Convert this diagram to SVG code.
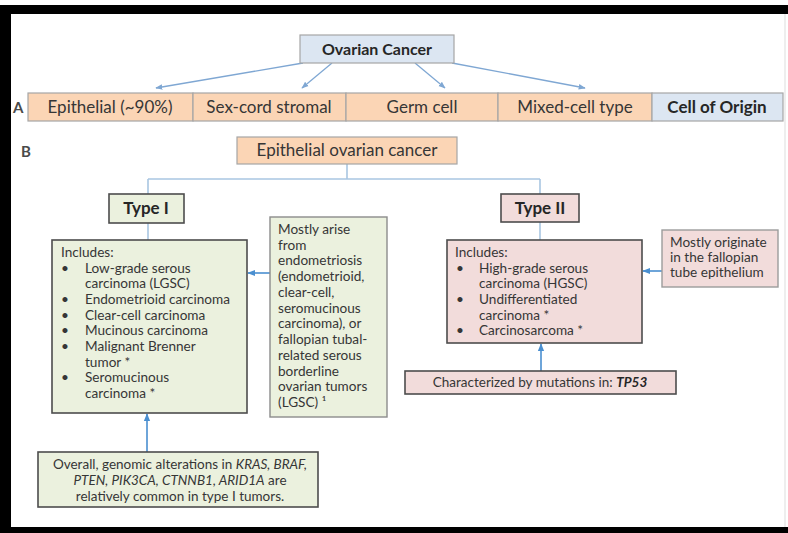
<svg xmlns="http://www.w3.org/2000/svg" width="788" height="533" viewBox="0 0 788 533">
  <defs>
    <marker id="ah" viewBox="0 0 10 10" refX="9" refY="5" markerWidth="8" markerHeight="8" markerUnits="userSpaceOnUse" orient="auto">
      <path d="M0,1 L10,5 L0,9 Z" fill="#4a8fd0"/>
    </marker>
    <marker id="ahs" viewBox="0 0 10 10" refX="9" refY="5" markerWidth="7" markerHeight="7" markerUnits="userSpaceOnUse" orient="auto">
      <path d="M0,1 L10,5 L0,9 Z" fill="#7fa7d3"/>
    </marker>
  </defs>
  <style>
    text { font-family: Lato, "Open Sans", "Liberation Sans", sans-serif; fill: #363636; }
    .head { font-weight: bold; fill: #262626; }
    .lbl { font-size: 15px; font-weight: bold; fill: #4a4a4a; }
    .row { font-size: 17px; }
    .body { font-size: 13.6px; }
    .small { font-size: 13.5px; }
    .mid { text-anchor: middle; }
    .it { font-style: italic; }
    .peach { fill: #fbd5b5; stroke: #a6a6a6; stroke-width: 1.2; }
    .blue { fill: #dce6f2; stroke: #a6a6a6; stroke-width: 1.2; }
    .green { fill: #ebf1de; stroke: #4d4d4d; stroke-width: 1.6; }
    .greenl { fill: #ebf1de; stroke: #8c8c8c; stroke-width: 1.4; }
    .pink { fill: #f2dcdb; stroke: #4d4d4d; stroke-width: 1.6; }
    .pinkl { fill: #f2dcdb; stroke: #9c9c9c; stroke-width: 1.4; }
    .tree { fill: none; stroke: #a9c6e2; stroke-width: 1.6; }
    .arrow { fill: none; stroke: #4a8fd0; stroke-width: 1.6; marker-end: url(#ah); }
    .arrow-s { fill: none; stroke: #7fa7d3; stroke-width: 1.3; marker-end: url(#ahs); }
  </style>

  <!-- frame -->
  <rect x="0" y="0" width="788" height="533" fill="#ffffff"/>
  <rect x="0" y="5" width="788" height="9" fill="#000000"/>
  <rect x="0" y="5" width="11" height="528" fill="#000000"/>
  <rect x="0" y="527" width="788" height="6" fill="#000000"/>
  <line x1="785" y1="14" x2="785" y2="527" stroke="#dddddd" stroke-width="1"/>

  <!-- panel labels -->
  <text class="lbl" x="13" y="113">A</text>
  <text class="lbl" x="21" y="157">B</text>

  <!-- connectors -->
  <g id="connectors">
    <line class="arrow-s" x1="303" y1="63" x2="156" y2="88"/>
    <line class="arrow-s" x1="332" y1="63" x2="302" y2="88"/>
    <line class="arrow-s" x1="415" y1="63" x2="445" y2="88"/>
    <line class="arrow-s" x1="452" y1="63" x2="585" y2="88"/>
    <path class="tree" d="M347,164 V179 M148,179 H540 M148,179 V194 M540,179 V194 M148,223 V240 M540,222 V240"/>
    <line class="arrow" x1="270" y1="273" x2="248" y2="273"/>
    <line class="arrow" x1="662" y1="271" x2="643" y2="271"/>
    <line class="arrow" x1="147" y1="452" x2="147" y2="414"/>
    <line class="arrow" x1="541" y1="371" x2="541" y2="344"/>
  </g>

  <!-- top of the classification -->
  <g id="ovarian-cancer">
    <rect class="blue" x="300" y="35" width="154" height="28"/>
    <text class="head row mid" x="377" y="55" style="font-size:16px">Ovarian Cancer</text>
  </g>

  <!-- row A: cell of origin -->
  <g id="epithelial">
    <rect class="peach" x="28" y="93" width="165" height="28"/>
    <text class="row mid" x="110" y="113">Epithelial (~90%)</text>
  </g>
  <g id="sex-cord">
    <rect class="peach" x="193" y="93" width="153" height="28"/>
    <text class="row mid" x="269" y="113">Sex-cord stromal</text>
  </g>
  <g id="germ-cell">
    <rect class="peach" x="346" y="93" width="152" height="28"/>
    <text class="row mid" x="422" y="113">Germ cell</text>
  </g>
  <g id="mixed-cell">
    <rect class="peach" x="498" y="93" width="154" height="28"/>
    <text class="row mid" x="575" y="113">Mixed-cell type</text>
  </g>
  <g id="cell-of-origin">
    <rect class="blue" x="652" y="93" width="131" height="28"/>
    <text class="head row mid" x="717" y="113">Cell of Origin</text>
  </g>

  <!-- row B -->
  <g id="epithelial-ovarian">
    <rect class="peach" x="237" y="137" width="220" height="27"/>
    <text class="row mid" x="347" y="156">Epithelial ovarian cancer</text>
  </g>

  <g id="type-1">
    <rect class="green" x="109" y="194" width="75" height="29"/>
    <text class="head mid" x="146" y="214" style="font-size:17px">Type I</text>
  </g>
  <g id="type-2">
    <rect class="pink" x="501" y="194" width="78" height="28"/>
    <text class="head mid" x="540" y="214" style="font-size:17px">Type II</text>
  </g>

  <g id="type-1-includes">
    <rect class="green" x="52" y="240" width="195" height="173"/>
    <text class="body" x="61" y="257">Includes:</text>
    <text class="body" x="61" y="273">•</text>
    <text class="body" x="85" y="273">Low-grade serous</text>
    <text class="body" x="85" y="288">carcinoma (LGSC)</text>
    <text class="body" x="61" y="304">•</text>
    <text class="body" x="85" y="304">Endometrioid carcinoma</text>
    <text class="body" x="61" y="320">•</text>
    <text class="body" x="85" y="320">Clear-cell carcinoma</text>
    <text class="body" x="61" y="335">•</text>
    <text class="body" x="85" y="335">Mucinous carcinoma</text>
    <text class="body" x="61" y="351">•</text>
    <text class="body" x="85" y="351">Malignant Brenner</text>
    <text class="body" x="85" y="367">tumor *</text>
    <text class="body" x="61" y="382">•</text>
    <text class="body" x="85" y="382">Seromucinous</text>
    <text class="body" x="85" y="398">carcinoma *</text>
  </g>

  <g id="type-1-origin">
    <rect class="greenl" x="270" y="217" width="117" height="200"/>
    <text class="body" x="278" y="234">Mostly arise</text>
    <text class="body" x="278" y="250">from</text>
    <text class="body" x="278" y="265">endometriosis</text>
    <text class="body" x="278" y="281">(endometrioid,</text>
    <text class="body" x="278" y="297">clear-cell,</text>
    <text class="body" x="278" y="313">seromucinous</text>
    <text class="body" x="278" y="328">carcinoma), or</text>
    <text class="body" x="278" y="344">fallopian tubal-</text>
    <text class="body" x="278" y="360">related serous</text>
    <text class="body" x="278" y="376">borderline</text>
    <text class="body" x="278" y="391">ovarian tumors</text>
    <text class="body" x="278" y="407">(LGSC) ¹</text>
  </g>

  <g id="type-1-genomics">
    <rect class="green" x="38" y="452" width="280" height="55"/>
    <text class="small mid" x="180" y="469">Overall, genomic alterations in <tspan class="it">KRAS, BRAF,</tspan></text>
    <text class="small mid" x="180" y="485"><tspan class="it">PTEN, PIK3CA, CTNNB1, ARID1A</tspan> are</text>
    <text class="small mid" x="180" y="501">relatively common in type I tumors.</text>
  </g>

  <g id="type-2-includes">
    <rect class="pink" x="447" y="240" width="195" height="103"/>
    <text class="body" x="455" y="257">Includes:</text>
    <text class="body" x="456" y="273">•</text>
    <text class="body" x="479" y="273">High-grade serous</text>
    <text class="body" x="479" y="288">carcinoma (HGSC)</text>
    <text class="body" x="456" y="304">•</text>
    <text class="body" x="479" y="304">Undifferentiated</text>
    <text class="body" x="479" y="320">carcinoma *</text>
    <text class="body" x="456" y="335">•</text>
    <text class="body" x="479" y="335">Carcinosarcoma *</text>
  </g>

  <g id="type-2-origin">
    <rect class="pinkl" x="662" y="230" width="116" height="57"/>
    <text class="body" x="670" y="247">Mostly originate</text>
    <text class="body" x="670" y="262">in the fallopian</text>
    <text class="body" x="670" y="277">tube epithelium</text>
  </g>

  <g id="type-2-genomics">
    <rect class="pink" x="405" y="371" width="271" height="23"/>
    <text class="small mid" x="540" y="387">Characterized by mutations in: <tspan class="it head">TP53</tspan></text>
  </g>
</svg>
